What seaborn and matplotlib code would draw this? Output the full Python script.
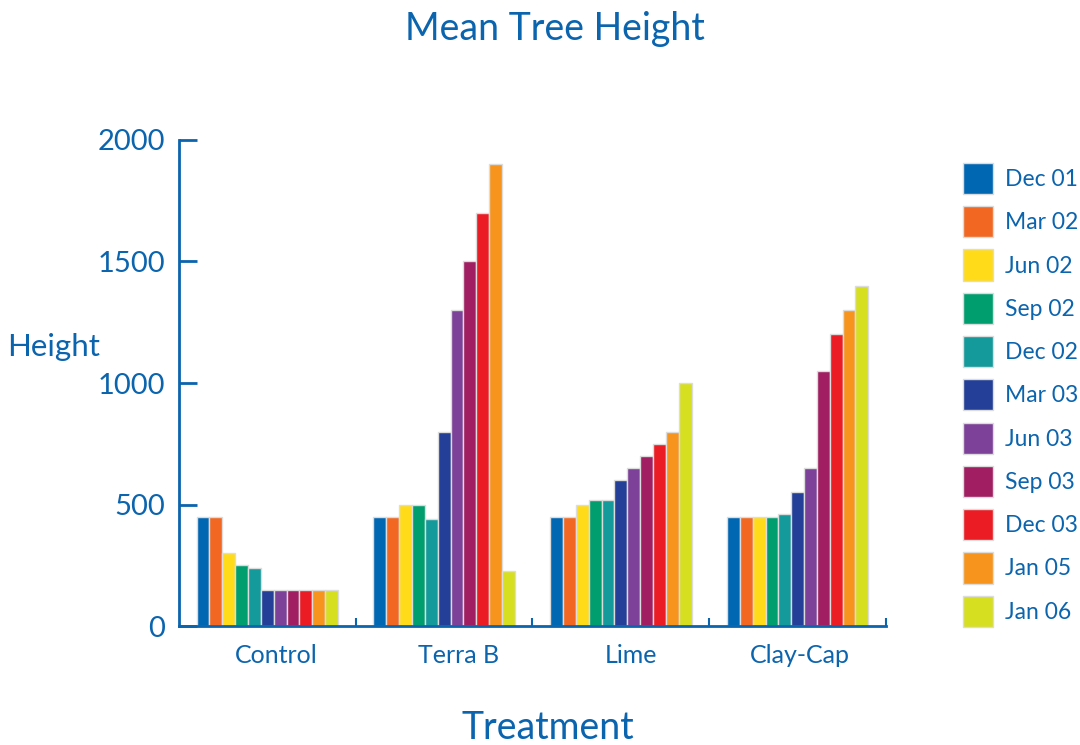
import matplotlib
matplotlib.use("Agg")
import matplotlib.pyplot as plt
import seaborn as sns
import pandas as pd
from matplotlib.ticker import FixedLocator

treatments = ["Control", "Terra B", "Lime", "Clay-Cap"]
dates = ["Dec 01", "Mar 02", "Jun 02", "Sep 02", "Dec 02", "Mar 03",
         "Jun 03", "Sep 03", "Dec 03", "Jan 05", "Jan 06"]

control = [450, 450, 300, 250, 240, 150, 150, 150, 150, 150, 150]
terra_b = [450, 450, 500, 500, 440, 800, 1300, 1500, 1700, 1900, 225]
lime = [450, 450, 500, 520, 520, 600, 650, 700, 750, 800, 1000]
clay_cap = [450, 450, 450, 450, 460, 550, 650, 1050, 1200, 1300, 1400]

colors = ["#0068B3", "#F26822", "#FFDB19", "#009E6E", "#159A9C", "#233F97",
          "#7D4199", "#A01E61", "#EC1C24", "#F7941D", "#D7DF21"]

BLUE = "#0B64AE"

rows = []
for name, vals in zip(treatments, [control, terra_b, lime, clay_cap]):
    for d, v in zip(dates, vals):
        rows.append({"Treatment": name, "Date": d, "Height": v})
df = pd.DataFrame(rows)

sns.set_theme(style="white")
plt.rcParams["font.family"] = ["Lato", "DejaVu Sans"]

fig = plt.figure(figsize=(10.8, 7.45), dpi=100)
ax = fig.add_axes([0.1657, 0.1597, 0.6547, 0.6524])

sns.barplot(data=df, x="Treatment", y="Height", hue="Date",
            order=treatments, hue_order=dates, palette=colors,
            saturation=1, width=0.8, edgecolor="#dcdcdc", linewidth=1, ax=ax)

ax.set_ylim(0, 2000)
ax.set_xlim(-0.5, 3.5)
ax.set_yticks([0, 500, 1000, 1500, 2000])
# labels sit a little right of the group centres in the original
ax.set_xticks([0.05, 1.08, 2.06, 3.01], treatments)

for side in ["top", "right"]:
    ax.spines[side].set_visible(False)
for side in ["left", "bottom"]:
    ax.spines[side].set_color(BLUE)
    ax.spines[side].set_linewidth(2)

ax.tick_params(axis="y", direction="in", length=13, width=2, color=BLUE,
               labelcolor=BLUE, labelsize=21, pad=10, left=True)
ax.tick_params(axis="x", length=0, labelcolor=BLUE, labelsize=18, pad=13)
ax.xaxis.set_minor_locator(FixedLocator([0.5, 1.5, 2.5, 3.5]))
ax.tick_params(axis="x", which="minor", direction="in", length=6, width=1.5,
               color=BLUE, bottom=True)
ax.xaxis.get_minorticklines()[-2].set_color("black")

ax.set_xlabel("")
ax.set_ylabel("")
fig.text(0.05, 1 - 347 / 745, "Height", fontsize=22.5, color=BLUE,
         ha="center", va="center")
fig.text(0.507, 1 - 728 / 745, "Treatment", fontsize=27, color=BLUE,
         ha="center", va="center")
fig.text(0.514, 1 - 29 / 745, "Mean Tree Height", fontsize=27, color=BLUE,
         ha="center", va="center")

ax.get_legend().remove()
handles, labels = ax.get_legend_handles_labels()
leg = fig.legend(handles, labels, loc="upper left",
                 bbox_to_anchor=(0.8726, 0.809), frameon=False,
                 fontsize=16.5, handlelength=1.31, handleheight=1.72,
                 labelspacing=0.525, handletextpad=0.52)
for t in leg.get_texts():
    t.set_color(BLUE)

fig.savefig("out.png", dpi=100)
